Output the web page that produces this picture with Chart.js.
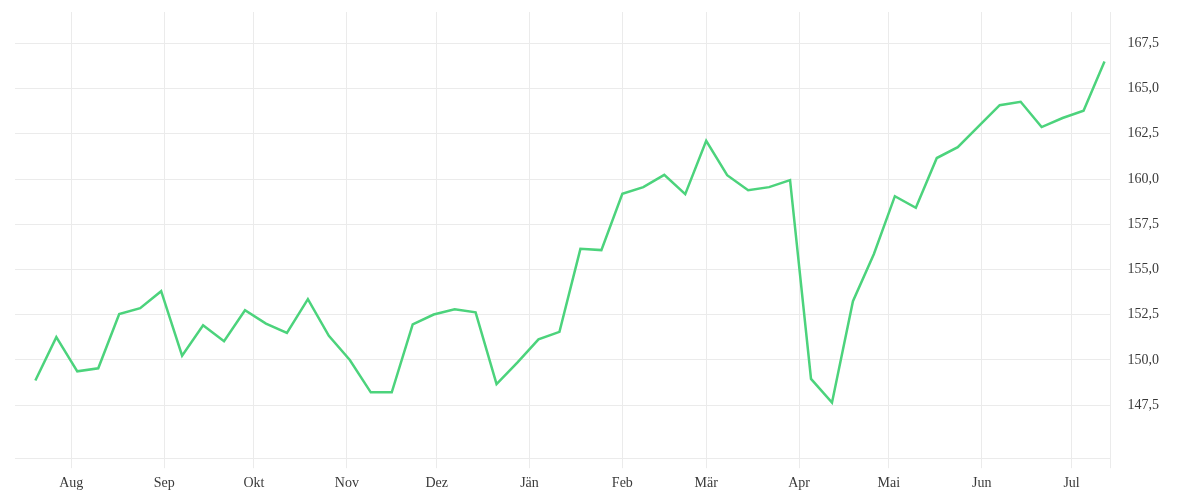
<!DOCTYPE html>
<html>
<head>
<meta charset="utf-8">
<script src="https://cdn.jsdelivr.net/npm/chart.js@4"></script>
<style>
  html, body { margin: 0; padding: 0; background: #fff; }
  #wrap { width: 1200px; height: 500px; }
</style>
</head>
<body>
<div id="wrap"><canvas id="chart"></canvas></div>
<script>
// weekly closing values
var dates = [
  '2018-07-20','2018-07-27','2018-08-03','2018-08-10','2018-08-17','2018-08-24','2018-08-31',
  '2018-09-07','2018-09-14','2018-09-21','2018-09-28','2018-10-05','2018-10-12','2018-10-19',
  '2018-10-26','2018-11-02','2018-11-09','2018-11-16','2018-11-23','2018-11-30','2018-12-07',
  '2018-12-14','2018-12-21','2018-12-28','2019-01-04','2019-01-11','2019-01-18','2019-01-25',
  '2019-02-01','2019-02-08','2019-02-15','2019-02-22','2019-03-01','2019-03-08','2019-03-15',
  '2019-03-22','2019-03-29','2019-04-05','2019-04-12','2019-04-19','2019-04-26','2019-05-03',
  '2019-05-10','2019-05-17','2019-05-24','2019-05-31','2019-06-07','2019-06-14','2019-06-21',
  '2019-06-28','2019-07-05','2019-07-12'
];
var values = [
  148.86, 151.26, 149.37, 149.54, 152.54, 152.86, 153.80,
  150.24, 151.92, 151.03, 152.75, 152.01, 151.49, 153.36,
  151.33, 150.00, 148.21, 148.21, 151.97, 152.51, 152.80,
  152.63, 148.66, 149.87, 151.14, 151.55, 156.14, 156.07,
  159.18, 159.55, 160.23, 159.16, 162.11, 160.21, 159.38,
  159.55, 159.94, 148.95, 147.64, 153.25, 155.86, 159.05,
  158.41, 161.16, 161.76, 162.92, 164.08, 164.27, 162.87,
  163.37, 163.77, 166.50
];
var monthStarts = ['2018-08-01','2018-09-01','2018-10-01','2018-11-01','2018-12-01','2019-01-01',
                   '2019-02-01','2019-03-01','2019-04-01','2019-05-01','2019-06-01','2019-07-01'];
var monthLabels = ['Aug','Sep','Okt','Nov','Dez','Jän','Feb','Mär','Apr','Mai','Jun','Jul'];
var yTicks = [147.5, 150, 152.5, 155, 157.5, 160, 162.5, 165, 167.5];

var base = Date.UTC(2018, 7, 1);
function dayOf(s) {
  var p = s.split('-');
  return (Date.UTC(+p[0], +p[1] - 1, +p[2]) - base) / 86400000;
}

var points = dates.map(function (d, i) { return { x: dayOf(d), y: values[i] }; });
var monthDays = monthStarts.map(dayOf);

var gridColor = '#ebebeb';
var textColor = '#3a3a3a';
var font = { family: '"Liberation Serif", "DejaVu Serif", serif', size: 14 };

new Chart('chart', {
  type: 'line',
  data: {
    datasets: [{
      data: points,
      borderColor: '#4cd37c',
      borderWidth: 2.5,
      pointRadius: 0,
      tension: 0,
      fill: false
    }]
  },
  options: {
    responsive: true,
    maintainAspectRatio: false,
    animation: false,
    layout: { padding: { left: 15, top: 12, right: 24, bottom: 1 } },
    plugins: { legend: { display: false }, tooltip: { enabled: false } },
    scales: {
      x: {
        type: 'linear',
        min: -18.8,
        max: 347,
        afterBuildTicks: function (axis) {
          var t = monthDays.map(function (d) { return { value: d }; });
          t.push({ value: 347 });
          axis.ticks = t;
        },
        ticks: {
          autoSkip: false,
          maxRotation: 0,
          padding: 7,
          color: textColor,
          font: font,
          callback: function (v) {
            var i = monthDays.indexOf(v);
            return i >= 0 ? monthLabels[i] : '';
          }
        },
        grid: { color: gridColor, lineWidth: 1, tickLength: 10, drawTicks: true },
        border: { display: true, color: gridColor }
      },
      y: {
        position: 'right',
        min: 144.57,
        max: 169.23,
        afterBuildTicks: function (axis) {
          axis.ticks = yTicks.map(function (v) { return { value: v }; });
        },
        afterFit: function (axis) {
          axis.paddingTop = 0;
          axis.paddingBottom = 0;
        },
        ticks: {
          padding: 17,
          color: textColor,
          font: font,
          callback: function (v) { return v.toFixed(1).replace('.', ','); }
        },
        grid: { color: gridColor, lineWidth: 1, drawTicks: false },
        border: { display: false }
      }
    }
  }
});
</script>
</body>
</html>
